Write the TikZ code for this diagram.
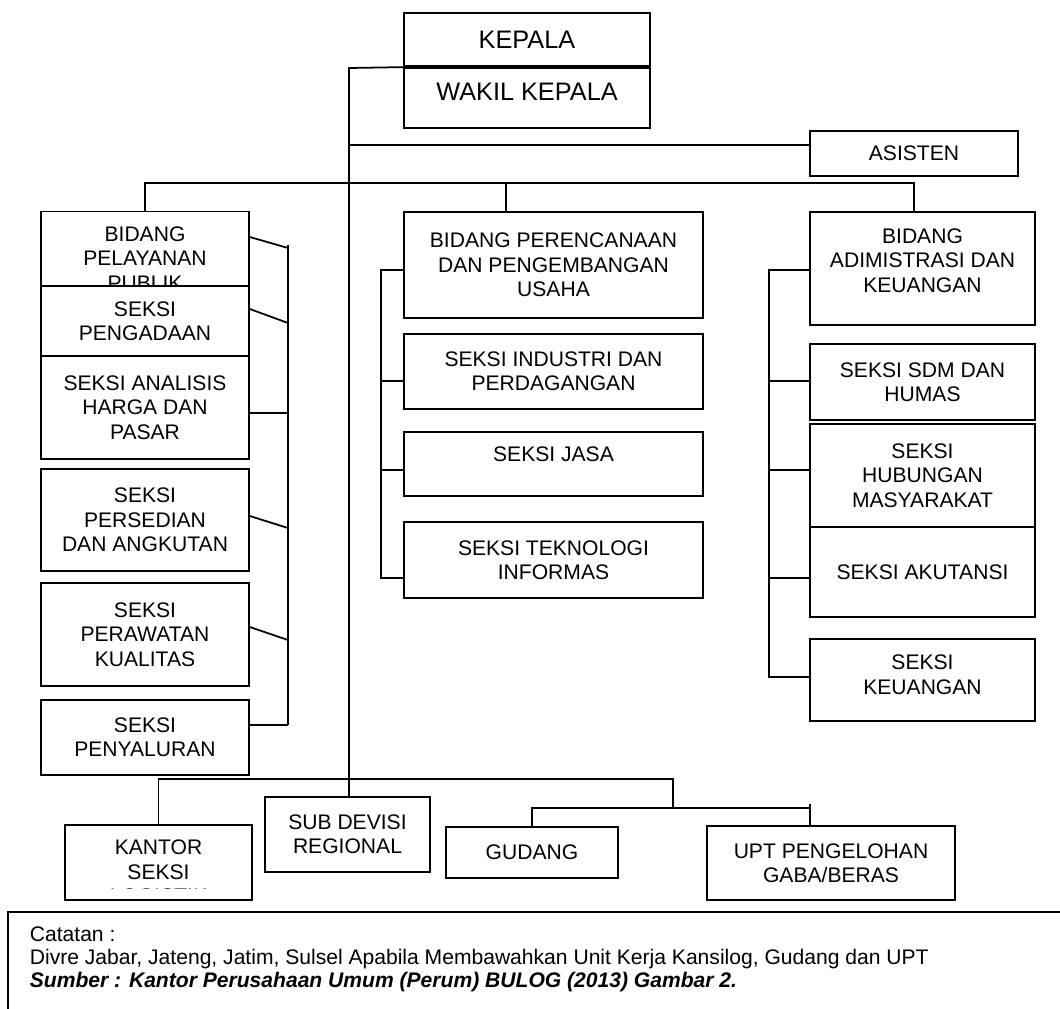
\documentclass[tikz,border=0pt]{standalone}
\usepackage{fontspec}
\setmainfont{Liberation Sans}
\usetikzlibrary{positioning,calc}
% naikkan teks tanpa mengubah ukuran kotak
\newcommand{\lift}[2]{\raisebox{#1}[\height][\depth]{\begin{tabular}{@{}c@{}}#2\end{tabular}}}

\begin{document}
\begin{tikzpicture}[
  x=0.02cm, y=-0.02cm,
  unit/.style={rectangle, draw=black, fill=white, line width=1pt, align=center, inner sep=1pt, font=\fontsize{12}{13.9}\selectfont},
  head/.style={unit, minimum width=4.92cm, font=\fontsize{14.4}{16}\selectfont},
  lcol/.style={unit, minimum width=4.16cm},
  mcol/.style={unit, minimum width=5.98cm},
  rcol/.style={unit, minimum width=4.5cm},
  conn/.style={black, line width=1pt}
]
\useasboundingbox (0,0) rectangle (1060,1008);

% Pimpinan
\node[head, minimum height=1.06cm] (kepala) at (527,39.5) {KEPALA};
\node[head, minimum height=1.2cm, text depth=0.25cm] (wakil) at (527,98) {WAKIL KEPALA};
\node[unit, minimum width=4.16cm, minimum height=0.9cm] (asisten) at (914,153.5) {ASISTEN};

% Bidang Pelayanan Publik
\node[lcol, minimum height=1.88cm] (pelayanan) at (145,258.5) {BIDANG\\PELAYANAN\\PUBLIK};
\node[lcol, minimum height=1.4cm] (pengadaan) at (145,321) {SEKSI\\PENGADAAN};
\node[lcol, minimum height=2.06cm] (analisis) at (145,407.5) {SEKSI ANALISIS\\HARGA DAN\\PASAR};
\node[lcol, minimum height=2.04cm] (persedian) at (145,520) {SEKSI\\PERSEDIAN\\DAN ANGKUTAN};
\node[lcol, minimum height=2.06cm] (perawatan) at (145,634.5) {SEKSI\\PERAWATAN\\KUALITAS};
\node[lcol, minimum height=1.5cm] (penyaluran) at (145,737.5) {SEKSI\\PENYALURAN};

% Bidang Perencanaan
\node[mcol, minimum height=2.12cm] (perencanaan) at (553.5,265) {BIDANG PERENCANAAN\\DAN PENGEMBANGAN\\USAHA};
\node[mcol, minimum height=1.5cm] (industri) at (553.5,371.5) {SEKSI INDUSTRI DAN\\PERDAGANGAN};
\node[mcol, minimum height=1.28cm, text depth=0.41cm] (jasa) at (553.5,464) {SEKSI JASA};
\node[mcol, minimum height=1.52cm] (teknologi) at (553.5,560) {SEKSI TEKNOLOGI\\INFORMAS};

% Bidang Administrasi
\node[rcol, minimum height=2.26cm] (adm) at (922.5,268.5) {\lift{0.11cm}{BIDANG\\ADIMISTRASI DAN\\KEUANGAN}};
\node[rcol, minimum height=1.52cm] (sdm) at (922.5,382) {SEKSI SDM DAN\\HUMAS};
\node[rcol, minimum height=2.06cm] (humas) at (922.5,475.5) {SEKSI\\HUBUNGAN\\MASYARAKAT};
\node[rcol, minimum height=1.8cm] (akutansi) at (922.5,572) {SEKSI AKUTANSI};
\node[rcol, minimum height=1.64cm] (keuangan) at (922.5,680) {\lift{0.06cm}{SEKSI\\KEUANGAN}};

% Unit bawah
\node[unit, minimum width=3.74cm, minimum height=1.5cm] (kantor) at (158.5,862.5) {};
\begin{scope}
  \clip (65,825) rectangle (252,888.5);
  \node[unit, draw=none, fill=none] (kantorlbl) at (158.5,872) {KANTOR\\SEKSI\\LOGISTIK};
\end{scope}
\node[unit, minimum width=3.3cm, minimum height=1.5cm] (subdiv) at (347.5,834.5) {SUB DEVISI\\REGIONAL};
\node[unit, minimum width=3.44cm, minimum height=1.02cm] (gudang) at (532,852.5) {GUDANG};
\node[unit, minimum width=4.96cm, minimum height=1.48cm] (upt) at (831,863) {UPT PENGELOHAN\\GABA/BERAS};

% Catatan
\node[anchor=north west, draw, line width=1pt, inner xsep=0.44cm, inner ysep=0.3cm, font=\fontsize{12}{13.1}\selectfont] (catatan) at (7,911)
  {\parbox[t][1.6cm][t]{20.5cm}{\raggedright Catatan :\\Divre Jabar, Jateng, Jatim, Sulsel Apabila Membawahkan Unit Kerja Kansilog, Gudang dan UPT\\\textbf{\textit{Sumber : Kantor Perusahaan Umum (Perum) BULOG (2013) Gambar 2.}}}};

% Garis komando
\coordinate (spine) at (349,68);
\coordinate (asis) at (349,145);
\coordinate (bar) at (349,183);
\coordinate (middrop) at (506,183);
\coordinate (admdrop) at (914,183);
\draw[conn] (wakil.north west) -- (spine) -- (spine |- subdiv.north);
\draw[conn] (asis) -- (asis -| asisten.west);
\draw[conn] (pelayanan.north) |- (admdrop) -- (admdrop |- adm.north);
\draw[conn] (middrop) -- (middrop |- perencanaan.north);

% Kiri
\draw[conn] (288,245) -- (288,725);
\draw[conn] (pelayanan.east |- 0,237) -- (288,248);
\draw[conn] (pengadaan.east |- 0,309) -- (288,323);
\draw[conn] (analisis.east |- 0,413) -- (288,413);
\draw[conn] (persedian.east |- 0,516) -- (288,528);
\draw[conn] (perawatan.east |- 0,627) -- (288,640);
\draw[conn] (penyaluran.east |- 0,725) -- (288,725);

% Tengah
\draw[conn] (perencanaan.west |- 0,270) -- (381,270) -- (381,578) -- (teknologi.west |- 0,578);
\draw[conn] (381,381) -- (industri.west |- 0,381);
\draw[conn] (381,470) -- (jasa.west |- 0,470);

% Kanan
\draw[conn] (adm.west |- 0,270) -- (769,270) -- (769,677) -- (keuangan.west |- 0,677);
\draw[conn] (769,381) -- (sdm.west |- 0,381);
\draw[conn] (769,470) -- (humas.west |- 0,470);
\draw[conn] (769,578) -- (akutansi.west |- 0,578);

% Bawah
\draw[conn] (kantor.north) |- (673,779) -- (673,808);
\draw[conn] (gudang.north) |- (810,808);
\draw[conn] (810,804) -- (upt.north -| 810,0);

\end{tikzpicture}
\end{document}
